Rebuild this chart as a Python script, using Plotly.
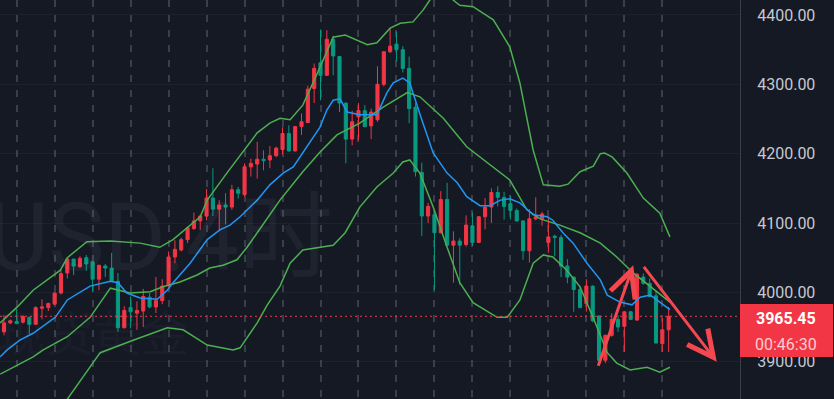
import plotly.graph_objects as go

# ---------------- data ----------------
opens = [3943, 3956, 3958, 3957, 3964, 3954, 3977, 3978, 3983, 3999,
         4028, 4048, 4037, 4050, 4044, 4019, 4038, 4035, 4016, 3949,
         3978, 3970, 3973, 3993, 3979, 3988, 4010, 4051, 4061, 4076,
         4092, 4103, 4110, 4136, 4120, 4126, 4123, 4148, 4141, 4181,
         4185, 4192, 4191, 4197, 4206, 4229, 4204, 4239, 4245, 4294,
         4331, 4313, 4365, 4340, 4273, 4221, 4253, 4262, 4240, 4249,
         4300, 4347, 4358, 4350, 4323, 4267, 4173, 4110, 4112, 4086,
         4134, 4068, 4074, 4069, 4096, 4072, 4109, 4123, 4144, 4137,
         4128, 4118, 4103, 4060, 4106, 4106, 4072, 4081, 4079, 4038,
         4022, 4004, 3984, 4009, 3966, 3902, 3938, 3961, 3951, 3972,
         3960, 4022, 4013, 3995, 3926, 3946]
highs = [3967, 3961, 3976, 3967, 3965, 3980, 3990, 3985, 4000, 4033,
         4049, 4048, 4052, 4054, 4045, 4040, 4041, 4057, 4028, 3980,
         3994, 3987, 4005, 3999, 4022, 4019, 4059, 4075, 4079, 4095,
         4115, 4112, 4149, 4179, 4133, 4143, 4155, 4152, 4186, 4193,
         4217, 4205, 4211, 4210, 4238, 4241, 4240, 4258, 4298, 4330,
         4379, 4378, 4370, 4341, 4273, 4262, 4273, 4270, 4265, 4326,
         4348, 4381, 4376, 4355, 4340, 4273, 4187, 4129, 4114, 4146,
         4158, 4088, 4078, 4111, 4115, 4110, 4136, 4150, 4153, 4145,
         4140, 4121, 4104, 4120, 4137, 4116, 4108, 4083, 4083, 4048,
         4022, 4009, 4019, 4010, 3966, 3939, 3970, 3967, 3973, 3973,
         4028, 4027, 4020, 4001, 3963, 3979]
lows = [3938, 3954, 3954, 3955, 3940, 3953, 3961, 3973, 3982, 3997,
        4020, 4025, 4035, 4031, 4001, 4003, 4022, 4015, 3943, 3948,
        3948, 3946, 3950, 3977, 3970, 3983, 4008, 4042, 4059, 4071,
        4090, 4090, 4104, 4110, 4090, 4098, 4119, 4135, 4138, 4167,
        4164, 4176, 4179, 4195, 4199, 4203, 4203, 4227, 4244, 4273,
        4277, 4312, 4313, 4260, 4186, 4212, 4219, 4238, 4221, 4246,
        4297, 4345, 4333, 4317, 4244, 4167, 4081, 4100, 4003, 4085,
        4067, 4014, 4011, 4066, 4067, 4071, 4091, 4100, 4124, 4105,
        4105, 4102, 4047, 4043, 4104, 4096, 4057, 4052, 4022, 4013,
        3972, 3977, 3972, 3957, 3900, 3898, 3936, 3943, 3914, 3960,
        3959, 4011, 3993, 3926, 3914, 3914]
closes = [3956, 3959, 3955, 3965, 3954, 3978, 3979, 3984, 3999, 4027,
          4048, 4038, 4049, 4041, 4019, 4039, 4035, 4016, 3949, 3974,
          3972, 3974, 3994, 3979, 3988, 4009, 4051, 4062, 4076, 4093,
          4103, 4110, 4136, 4120, 4126, 4123, 4148, 4143, 4181, 4186,
          4192, 4190, 4197, 4208, 4229, 4204, 4239, 4246, 4293, 4323,
          4313, 4365, 4341, 4273, 4221, 4246, 4262, 4239, 4260, 4300,
          4347, 4355, 4350, 4323, 4265, 4174, 4110, 4124, 4086, 4134,
          4068, 4074, 4068, 4097, 4072, 4109, 4123, 4144, 4137, 4124,
          4118, 4103, 4060, 4106, 4109, 4113, 4080, 4079, 4038, 4022,
          4004, 3978, 4009, 3959, 3902, 3938, 3961, 3950, 3972, 3961,
          4026, 4013, 3994, 3927, 3946, 3965.45]
bar_idx = list(range(len(closes)))

# blue moving average (bar position, price)
ma_x = [-0.6, 0.5, 2.5, 4.6, 8.1, 10.0, 13.6, 16.8, 18.0, 19.4, 21.5, 24.2,
        25.8, 26.7, 29.4, 32.1, 34.1, 35.7, 37.3, 40.0, 42.0, 44.1, 45.7,
        47.2, 49.9, 51.0, 52.0, 53.1, 54.2, 56.2, 58.9, 60.5, 61.5, 63.0,
        64.1, 66.0, 67.8, 70.0, 71.6, 73.1, 75.2, 76.8, 78.4, 79.9, 81.5,
        83.6, 85.8, 86.7, 88.3, 89.9, 92.1, 94.2, 95.3, 97.3, 99.2, 100.5,
        102.1, 103.6, 105.2]
ma_y = [3907, 3917, 3931, 3941, 3964, 3989, 4009, 4016, 4014, 3999, 3992, 3990,
        4003, 4014, 4042, 4076, 4090, 4097, 4109, 4133, 4155, 4172, 4181,
        4201, 4238, 4263, 4277, 4279, 4260, 4256, 4256, 4288, 4302, 4309,
        4302, 4249, 4201, 4172, 4158, 4138, 4125, 4125, 4133, 4135, 4129,
        4112, 4109, 4104, 4086, 4071, 4042, 4018, 3996, 3986, 3982, 3993,
        3996, 3986, 3975]

# Bollinger upper band
bb_up_x = [-0.6, 2.1, 4.6, 6.8, 8.9, 10.0, 13.1, 16.8, 21.5, 24.6, 26.7, 31.0,
           32.1, 35.2, 38.4, 40.0, 42.0, 43.6, 45.2, 47.2, 49.5, 52.0, 53.9,
           55.8, 57.4, 58.9, 61.0, 62.6, 64.6, 66.2, 67.3, 69.0, 70.9, 72.0,
           74.1, 77.3, 79.9, 81.5, 83.6, 85.2, 87.8, 89.1, 91.0, 93.1, 94.2,
           94.9, 96.1, 98.4, 101.0, 103.6, 105.2]
bb_up_y = [3956, 3979, 4003, 4018, 4032, 4050, 4073, 4074, 4071, 4065, 4076, 4109,
           4133, 4172, 4210, 4230, 4244, 4251, 4249, 4270, 4316, 4368, 4371,
           4363, 4357, 4360, 4381, 4388, 4390, 4407, 4422, 4433, 4422, 4414,
           4412, 4393, 4354, 4302, 4205, 4155, 4153, 4156, 4174, 4182, 4200,
           4201, 4195, 4172, 4136, 4114, 4080]

# Bollinger basis
bb_mid_x = [-0.6, 4.6, 6.2, 10.0, 13.6, 16.8, 19.9, 23.1, 25.1, 27.8, 30.5, 32.5,
            34.6, 36.8, 38.4, 40.0, 42.0, 43.6, 47.2, 49.9, 52.6, 56.2, 59.9,
            63.7, 65.7, 69.4, 73.1, 77.3, 79.9, 82.6, 84.7, 87.8, 91.0, 94.2,
            96.8, 99.4, 102.1, 105.2]
bb_mid_y = [3882, 3907, 3917, 3936, 3964, 4006, 3999, 4001, 4008, 4015, 4025, 4035,
            4039, 4047, 4065, 4086, 4112, 4133, 4174, 4202, 4227, 4244, 4267,
            4288, 4282, 4251, 4210, 4181, 4162, 4119, 4106, 4097, 4086, 4071,
            4051, 4028, 4008, 3986]

# Bollinger lower band
bb_lo_x = [2.5, 6.5, 10.0, 15.2, 20.4, 25.8, 28.3, 32.1, 36.2, 37.3, 40.0, 41.6,
           43.6, 45.2, 47.2, 49.9, 52.0, 53.9, 56.2, 58.9, 61.5, 63.0, 64.1,
           65.7, 67.8, 70.0, 72.0, 74.1, 77.9, 79.5, 81.5, 83.6, 85.2, 86.7,
           88.9, 91.0, 93.1, 95.3, 96.8, 98.9, 101.6, 103.6, 105.2]
bb_lo_y = [3804, 3819, 3846, 3913, 3931, 3949, 3946, 3924, 3917, 3920, 3956, 3982,
           4009, 4042, 4061, 4065, 4068, 4086, 4123, 4152, 4172, 4188, 4191,
           4172, 4123, 4065, 4014, 3985, 3964, 3964, 3989, 4042, 4054, 4051,
           4032, 4008, 3963, 3913, 3898, 3888, 3892, 3885, 3892]

price_ticks = [3900, 4000, 4100, 4200, 4300, 4400]
tick_labels = ["3900.00", "4000.00", "4100.00", "4200.00", "4300.00", "4400.00"]
day_breaks = list(range(2, 106, 6))
last_price = 3965.45
last_price_text = "3965.45"
countdown_text = "00:46:30"
watermark_symbol = "XAUUSD.4时"
watermark_name = "现货黄金"
# drawn arrows: (tail bar, tail price, head bar, head price)
arrows = [(93.8, 3892, 99.4, 4039), (100.9, 4039, 112.6, 3900)]

# ---------------- style ----------------
BG = "#151924"
UP = "#f23645"
DOWN = "#089981"
BLUE = "#2196f3"
GREEN = "#4caf50"
ARROW = "#f5474f"
X_RANGE = [-0.632, 116.27]
Y_RANGE = [3846.2, 4421.6]

fig = go.Figure()
fig.add_trace(go.Candlestick(
    x=bar_idx, open=opens, high=highs, low=lows, close=closes,
    increasing=dict(line=dict(color=UP, width=1), fillcolor=UP),
    decreasing=dict(line=dict(color=DOWN, width=1), fillcolor=DOWN),
    whiskerwidth=0, hoverinfo="skip"))

for xs, ys, col in [(bb_up_x, bb_up_y, GREEN), (bb_mid_x, bb_mid_y, GREEN),
                    (bb_lo_x, bb_lo_y, GREEN), (ma_x, ma_y, BLUE)]:
    fig.add_trace(go.Scatter(x=xs, y=ys, mode="lines",
                             line=dict(color=col, width=1.5),
                             hoverinfo="skip"))

fig.update_layout(
    width=834, height=399, autosize=False,
    margin=dict(l=0, r=94, t=0, b=0),
    paper_bgcolor=BG, plot_bgcolor=BG,
    showlegend=False, hovermode=False, dragmode=False,
    boxgap=0.3,
    xaxis=dict(range=X_RANGE, rangeslider=dict(visible=False),
               tickvals=day_breaks, showticklabels=False, ticks="",
               showgrid=True, gridcolor="#3a3e4a", gridwidth=1.5,
               griddash="7px,8px", zeroline=False, showline=False),
    yaxis=dict(range=Y_RANGE, side="right", tickvals=price_ticks,
               ticktext=tick_labels, ticks="", ticklabelstandoff=13,
               tickfont=dict(family="Roboto", size=16, color="#c5c8d0"),
               showgrid=True, gridcolor="rgba(255,255,255,0.035)",
               zeroline=False, showline=True, linecolor="#3a3e4a",
               linewidth=1),
)

# watermark
fig.add_annotation(text=watermark_symbol, xref="paper", yref="paper",
                   x=335 / 740, y=1 - 238 / 399, xanchor="right", yanchor="middle",
                   showarrow=False,
                   font=dict(family="Roboto, Noto Sans CJK SC", size=94,
                             color="rgba(200,210,230,0.055)"))
fig.add_annotation(text=watermark_name, xref="paper", yref="paper",
                   x=93 / 740, y=1 - 330 / 399, xanchor="center", yanchor="middle",
                   showarrow=False,
                   font=dict(family="Noto Sans CJK SC", size=48,
                             color="rgba(200,210,230,0.055)"))

# last price dotted line
fig.add_shape(type="line", xref="paper", yref="y", x0=0, x1=1,
              y0=last_price, y1=last_price,
              line=dict(color=UP, width=1, dash="2px,3px"))

# last price box on the axis
fig.add_shape(type="rect", xref="paper", yref="paper",
              x0=1.0, x1=833 / 740, y0=1 - 357 / 399, y1=1 - 304 / 399,
              fillcolor=UP, line=dict(width=0), layer="above")
fig.add_annotation(text="<b>" + last_price_text + "</b>", xref="paper", yref="paper",
                   x=786 / 740, y=1 - 318 / 399, xanchor="center", yanchor="middle",
                   showarrow=False,
                   font=dict(family="Roboto", size=16, color="#ffffff"))
fig.add_annotation(text=countdown_text, xref="paper", yref="paper",
                   x=786 / 740, y=1 - 344 / 399, xanchor="center", yanchor="middle",
                   showarrow=False,
                   font=dict(family="Roboto", size=16, color="rgba(255,255,255,0.75)"))

# hand-drawn arrows
for tx, ty, hx, hy in arrows:
    fig.add_annotation(x=hx, y=hy, ax=tx, ay=ty, xref="x", yref="y",
                       axref="x", ayref="y", text="", showarrow=True,
                       arrowhead=5, arrowsize=1.7, arrowwidth=3,
                       arrowcolor=ARROW, standoff=0)

fig.write_html("out.html", config={"displayModeBar": False},
               post_script="document.body.style.margin='0';"
               "document.body.style.overflow='hidden';")
